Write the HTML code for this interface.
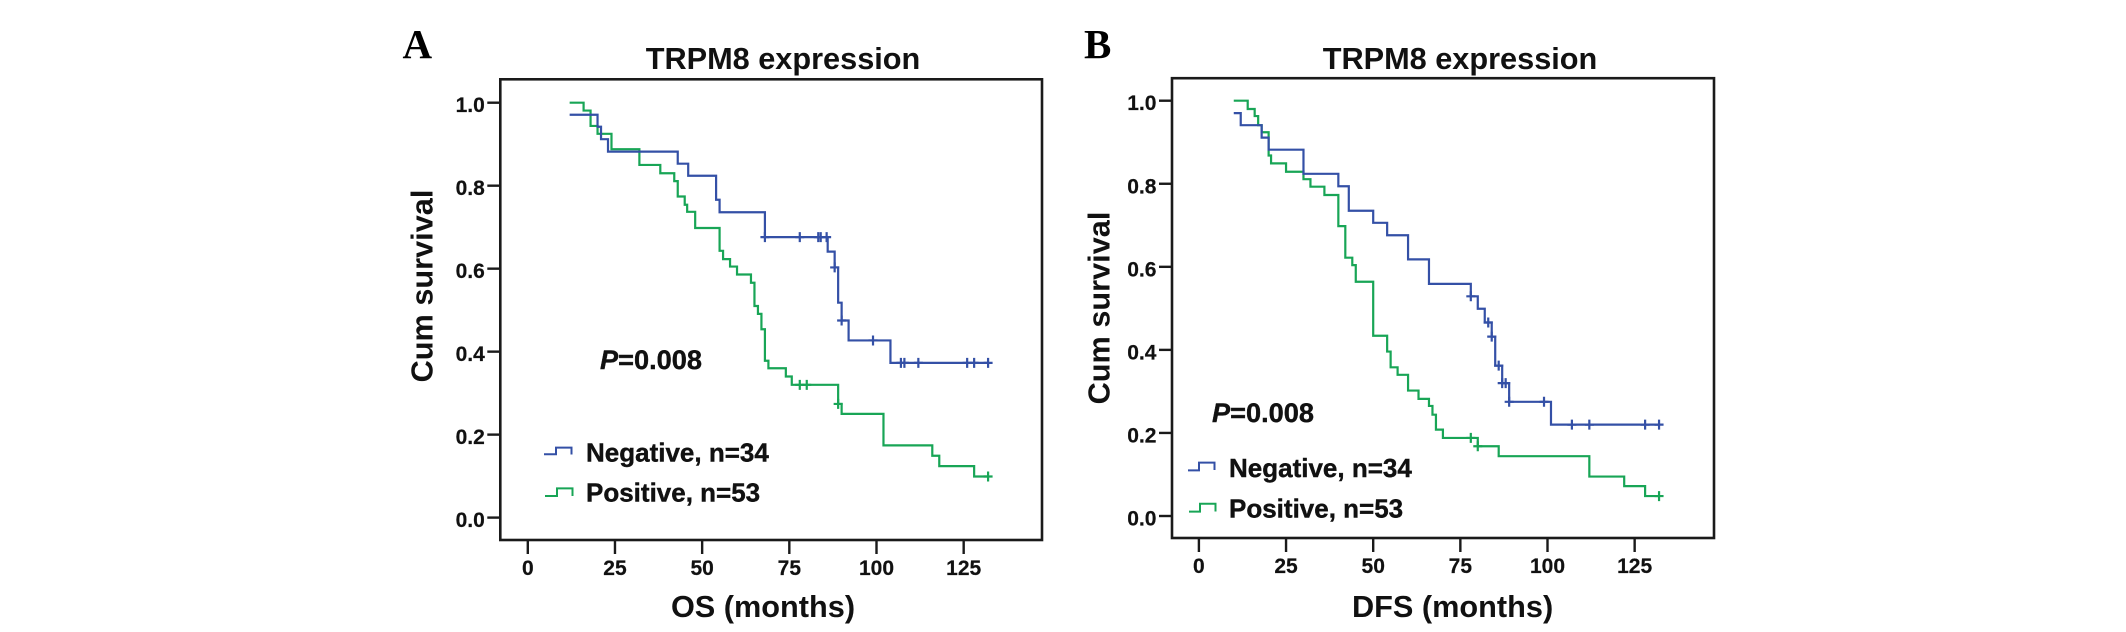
<!DOCTYPE html>
<html lang="en">
<head>
<meta charset="utf-8">
<title>TRPM8 expression survival curves</title>
<style>
  html, body { margin: 0; padding: 0; background: #fff; }
  body { width: 2126px; height: 632px; overflow: hidden; }
  svg { display: block; }
  text { font-family: "Liberation Sans", Arial, sans-serif; font-weight: bold; fill: #111; }
  .panel-letter { font-family: "Liberation Serif", serif; font-size: 41px; fill: #000; }
  .chart-title, .axis-title { font-size: 30.7px; }
  .tick-label { font-size: 21px; stroke: #111; stroke-width: 0.2; }
  .legend-text { font-size: 26px; stroke: #111; stroke-width: 0.4; }
  .p-value { font-size: 27px; stroke: #111; stroke-width: 0.4; }
  .frame { fill: none; stroke: #1a1a1a; stroke-width: 2.6; }
  .tick { stroke: #1a1a1a; stroke-width: 2.4; }
  .curve { fill: none; stroke-width: 2.2; stroke-linejoin: miter; }
  .negative { stroke: #3450a6; }
  .positive { stroke: #18a556; }
  .legend-glyph { fill: none; stroke-width: 2; }
</style>
</head>
<body>
<svg id="figure" width="2126" height="632" viewBox="0 0 2126 632" xmlns="http://www.w3.org/2000/svg">
  <rect width="2126" height="632" fill="#fff"/>

  <g id="panel-a">
    <text class="panel-letter" x="402.5" y="58">A</text>
    <text class="chart-title" x="783" y="69" text-anchor="middle">TRPM8 expression</text>
    <text class="axis-title" transform="translate(432.7 286) rotate(-90)" text-anchor="middle">Cum survival</text>
    <text class="axis-title" x="763" y="617" text-anchor="middle">OS (months)</text>
    <text class="p-value" x="600" y="369" textLength="102" lengthAdjust="spacingAndGlyphs"><tspan font-style="italic">P</tspan>=0.008</text>
    <path class="legend-glyph negative" d="M544 454.3H556V447.6H571.5V454.5"/>
    <text class="legend-text" x="586" y="461.7">Negative, n=34</text>
    <path class="legend-glyph positive" d="M545 496H557V488.4H572.5V496"/>
    <text class="legend-text" x="586" y="501.7">Positive, n=53</text>
  </g>

  <g id="panel-b">
    <text class="panel-letter" x="1084" y="58">B</text>
    <text class="chart-title" x="1460" y="69" text-anchor="middle">TRPM8 expression</text>
    <text class="axis-title" transform="translate(1109.3 308) rotate(-90)" text-anchor="middle">Cum survival</text>
    <text class="axis-title" x="1452.6" y="617" text-anchor="middle">DFS (months)</text>
    <text class="p-value" x="1212" y="422" textLength="102" lengthAdjust="spacingAndGlyphs"><tspan font-style="italic">P</tspan>=0.008</text>
    <path class="legend-glyph negative" d="M1188 470.4H1199V462.6H1214.5V470"/>
    <text class="legend-text" x="1229" y="476.8">Negative, n=34</text>
    <path class="legend-glyph positive" d="M1189 511.6H1200V503.8H1215.5V511.5"/>
    <text class="legend-text" x="1229" y="517.3">Positive, n=53</text>
  </g>
</svg>

<script>
// Shared tick labels
const xTickLabels = [0, 25, 50, 75, 100, 125];
const yTickLabels = ['0.0', '0.2', '0.4', '0.6', '0.8', '1.0'];

// Panel A: overall survival
const osNegativeMonths = [12, 20, 21, 23, 43, 46, 54, 55, 68, 86, 88, 89, 90, 92, 104];
const osNegativeSurvival = [0.971, 0.942, 0.912, 0.882, 0.853, 0.824, 0.766, 0.736, 0.676, 0.641, 0.603, 0.518, 0.475, 0.427, 0.373];
const osNegativeCensored = [68, 78, 83.3, 84, 85.7, 88, 90, 99, 107, 108, 112, 126, 128, 132];
const osPositiveMonths = [12, 16, 18, 20, 24, 32, 38, 42, 43, 45, 45.7, 48, 55, 56, 58, 60, 64, 65, 66, 67, 68, 69, 74, 75.7, 89, 90, 102, 116, 118, 128];
const osPositiveSurvival = [1.0, 0.981, 0.944, 0.925, 0.888, 0.85, 0.83, 0.811, 0.774, 0.754, 0.737, 0.698, 0.643, 0.623, 0.605, 0.586, 0.566, 0.51, 0.491, 0.454, 0.378, 0.36, 0.34, 0.32, 0.274, 0.25, 0.174, 0.149, 0.124, 0.099];
const osPositiveCensored = [78, 80, 89, 132];

// Panel B: disease-free survival
const dfsNegativeMonths = [10, 12, 18, 20, 30, 40, 43, 50, 54, 60, 66, 78, 80, 82, 84, 85, 87, 89, 101];
const dfsNegativeSurvival = [0.97, 0.941, 0.911, 0.882, 0.824, 0.794, 0.735, 0.706, 0.676, 0.618, 0.559, 0.529, 0.499, 0.466, 0.432, 0.362, 0.32, 0.275, 0.22];
const dfsNegativeCensored = [78, 83, 84, 86, 87, 88, 89, 99, 107, 112, 128, 132];
const dfsPositiveMonths = [10, 14, 16, 17, 18, 20, 20.7, 25, 30, 32, 36, 40, 42, 44, 45, 50, 54, 55, 57, 60, 63, 66, 67, 68, 70, 80, 86, 112, 122, 128];
const dfsPositiveSurvival = [1.0, 0.98, 0.963, 0.941, 0.924, 0.868, 0.849, 0.829, 0.811, 0.793, 0.773, 0.698, 0.622, 0.604, 0.564, 0.434, 0.396, 0.358, 0.34, 0.302, 0.282, 0.265, 0.244, 0.208, 0.188, 0.168, 0.144, 0.095, 0.072, 0.048];
const dfsPositiveCensored = [78, 80, 132];

const SVG_NS = 'http://www.w3.org/2000/svg';

function makeScale(zeroPixel, pixelsPerUnit) {
  return function (value) {
    return zeroPixel + value * pixelsPerUnit;
  };
}

function survivalAt(months, survival, time) {
  let level = survival[0];
  for (let i = 0; i < months.length; i++) {
    if (months[i] <= time) level = survival[i];
  }
  return level;
}

function drawFrameAndAxes(group, box, xScale, yScale, prefix) {
  const frame = document.createElementNS(SVG_NS, 'rect');
  
  
  frame.setAttribute('class', 'frame');
  frame.setAttribute('x', box.left);
  frame.setAttribute('y', box.top);
  frame.setAttribute('width', box.right - box.left);
  frame.setAttribute('height', box.bottom - box.top);
  group.appendChild(frame);

  xTickLabels.forEach(function (value) {
    const tick = document.createElementNS(SVG_NS, 'line');
    
    
    tick.setAttribute('class', 'tick');
    tick.setAttribute('x1', xScale(value));
    tick.setAttribute('x2', xScale(value));
    tick.setAttribute('y1', box.bottom);
    tick.setAttribute('y2', box.bottom + 14);
    group.appendChild(tick);

    const label = document.createElementNS(SVG_NS, 'text');
    
    
    label.setAttribute('class', 'tick-label');
    label.setAttribute('x', xScale(value));
    label.setAttribute('y', box.bottom + 35.2);
    label.setAttribute('text-anchor', 'middle');
    label.textContent = String(value);
    group.appendChild(label);
  });

  yTickLabels.forEach(function (value) {
    const tick = document.createElementNS(SVG_NS, 'line');
    
    
    tick.setAttribute('class', 'tick');
    tick.setAttribute('x1', box.left - 13);
    tick.setAttribute('x2', box.left);
    tick.setAttribute('y1', yScale(Number(value)));
    tick.setAttribute('y2', yScale(Number(value)));
    group.appendChild(tick);

    const label = document.createElementNS(SVG_NS, 'text');
    
    
    label.setAttribute('class', 'tick-label');
    label.setAttribute('x', box.left - 15.5);
    label.setAttribute('y', yScale(Number(value)) + 9.5);
    label.setAttribute('text-anchor', 'end');
    label.textContent = value;
    group.appendChild(label);
  });
}

function drawSeries(group, prefix, kind, months, survival, censored, xScale, yScale) {
  const endMonth = Math.max(months[months.length - 1], censored[censored.length - 1]);
  let d = 'M' + xScale(months[0]) + ' ' + yScale(survival[0]);
  for (let i = 1; i < months.length; i++) {
    d += 'H' + xScale(months[i]) + 'V' + yScale(survival[i]);
  }
  d += 'H' + xScale(endMonth);

  const curve = document.createElementNS(SVG_NS, 'path');
  
  
  curve.setAttribute('class', 'curve ' + kind);
  curve.setAttribute('d', d);
  group.appendChild(curve);

  censored.forEach(function (time) {
    const cx = xScale(time);
    const cy = yScale(survivalAt(months, survival, time));
    const mark = document.createElementNS(SVG_NS, 'path');
    
    
    mark.setAttribute('class', 'curve ' + kind);
    mark.setAttribute('d', 'M' + (cx - 4.5) + ' ' + cy + 'H' + (cx + 4.5) + 'M' + cx + ' ' + (cy - 5) + 'V' + (cy + 5));
    group.appendChild(mark);
  });
}

(function drawPanelA() {
  const group = document.getElementById('panel-a');
  const box = { left: 500.3, right: 1042, top: 79.3, bottom: 540 };
  const xScale = makeScale(527.8, 3.487);
  const yScale = makeScale(517.6, -414.9);
  drawFrameAndAxes(group, box, xScale, yScale, 'panel-a');
  drawSeries(group, 'panel-a', 'positive', osPositiveMonths, osPositiveSurvival, osPositiveCensored, xScale, yScale);
  drawSeries(group, 'panel-a', 'negative', osNegativeMonths, osNegativeSurvival, osNegativeCensored, xScale, yScale);
})();

(function drawPanelB() {
  const group = document.getElementById('panel-b');
  const box = { left: 1172, right: 1714, top: 78.2, bottom: 538 };
  const xScale = makeScale(1198.9, 3.486);
  const yScale = makeScale(516, -415.3);
  drawFrameAndAxes(group, box, xScale, yScale, 'panel-b');
  drawSeries(group, 'panel-b', 'positive', dfsPositiveMonths, dfsPositiveSurvival, dfsPositiveCensored, xScale, yScale);
  drawSeries(group, 'panel-b', 'negative', dfsNegativeMonths, dfsNegativeSurvival, dfsNegativeCensored, xScale, yScale);
})();
</script>
</body>
</html>
